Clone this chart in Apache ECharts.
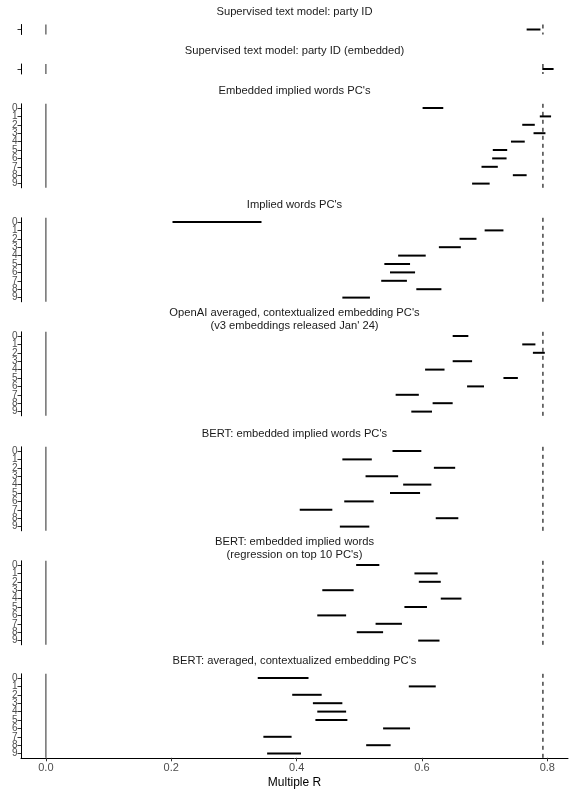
<!DOCTYPE html>
<html><head><meta charset="utf-8">
<script src="https://cdn.jsdelivr.net/npm/echarts@6/dist/echarts.min.js"></script>
<style>html,body{margin:0;padding:0;background:#fff}#c{width:574px;height:792px}</style>
</head><body><div id="c"></div>
<script>
// ---- data ----
const panelTitles = [
  "Supervised text model: party ID",
  "Supervised text model: party ID (embedded)",
  "Embedded implied words PC's",
  "Implied words PC's",
  "OpenAI averaged, contextualized embedding PC's\n(v3 embeddings released Jan' 24)",
  "BERT: embedded implied words PC's",
  "BERT: embedded implied words\n(regression on top 10 PC's)",
  "BERT: averaged, contextualized embedding PC's"
];
const singleLabels = [""];
const pcLabels = ["0","1","2","3","4","5","6","7","8","9"];
const xTicks = [0, 0.2, 0.4, 0.6, 0.8];
const refZero = 0;
const refCeiling = 0.793;

const supervisedLow = [0.767];
const supervisedHigh = [0.789];
const supervisedEmbLow = [0.792];
const supervisedEmbHigh = [0.810];
const embImpliedLow  = [0.601,0.788,0.760,0.778,0.742,0.713,0.712,0.695,0.745,0.680];
const embImpliedHigh = [0.634,0.806,0.780,0.797,0.764,0.736,0.735,0.721,0.767,0.708];
const impliedLow  = [0.202,0.700,0.660,0.627,0.562,0.540,0.549,0.535,0.591,0.473];
const impliedHigh = [0.344,0.730,0.687,0.662,0.606,0.581,0.589,0.576,0.631,0.517];
const openaiLow  = [0.649,0.760,0.777,0.649,0.605,0.730,0.672,0.558,0.617,0.583];
const openaiHigh = [0.674,0.781,0.796,0.680,0.636,0.753,0.699,0.595,0.649,0.616];
const bertEmbLow  = [0.553,0.473,0.619,0.510,0.570,0.549,0.476,0.405,0.622,0.469];
const bertEmbHigh = [0.599,0.520,0.653,0.562,0.615,0.597,0.523,0.457,0.658,0.516];
const bertRegLow  = [0.495,0.588,0.595,0.441,0.630,0.572,0.433,0.526,0.496,0.594];
const bertRegHigh = [0.532,0.625,0.630,0.491,0.663,0.608,0.479,0.568,0.538,0.628];
const bertAvgLow  = [0.338,0.579,0.393,0.426,0.433,0.430,0.538,0.347,0.511,0.353];
const bertAvgHigh = [0.419,0.622,0.440,0.473,0.479,0.481,0.581,0.392,0.550,0.407];

const panels = [
  {low: supervisedLow, high: supervisedHigh, cats: singleLabels},
  {low: supervisedEmbLow, high: supervisedEmbHigh, cats: singleLabels},
  {low: embImpliedLow, high: embImpliedHigh, cats: pcLabels},
  {low: impliedLow, high: impliedHigh, cats: pcLabels},
  {low: openaiLow, high: openaiHigh, cats: pcLabels},
  {low: bertEmbLow, high: bertEmbHigh, cats: pcLabels},
  {low: bertRegLow, high: bertRegHigh, cats: pcLabels},
  {low: bertAvgLow, high: bertAvgHigh, cats: pcLabels}
];

// ---- layout ----
const tops = [24.5, 64, 103.8, 217.8, 331.8, 446.8, 560.8, 673.8];
const heights = [10, 10, 84, 84, 84, 84, 84, 84];
const xMin = -0.0397, xMax = 0.833;
const FONT = "Liberation Sans, Arial, Helvetica, sans-serif";

const grids = [], xAxes = [], yAxes = [], series = [], titles = [];
panels.forEach((p, k) => {
  grids.push({left: 21, right: 6, top: tops[k], height: heights[k]});
  const last = k === panels.length - 1;
  xAxes.push({
    type: 'value', gridIndex: k, min: xMin, max: xMax, show: last,
    splitLine: {show: false},
    axisLine: {show: true, onZero: false, lineStyle: {color: '#000', width: 1}},
    axisTick: {show: true, length: 3.5, customValues: xTicks, lineStyle: {color: '#333', width: 1}},
    axisLabel: {customValues: xTicks, fontSize: 11, color: '#4d4d4d', margin: 5, fontFamily: FONT,
      formatter: v => v.toFixed(1)},
    name: last ? 'Multiple R' : '', nameLocation: 'middle', nameGap: 19,
    nameTextStyle: {fontSize: 12, color: '#000', fontFamily: FONT}
  });
  yAxes.push({
    type: 'category', gridIndex: k, data: p.cats, inverse: true, position: 'left',
    axisLine: {show: true, onZero: false, lineStyle: {color: '#000', width: 1}},
    axisTick: {show: true, alignWithLabel: true, length: 3.5, lineStyle: {color: '#333', width: 1}},
    axisLabel: {fontSize: 10, color: '#4d4d4d', margin: 3.5, fontFamily: FONT, interval: 0, lineHeight: 9},
    splitLine: {show: false}
  });
  // reference vertical lines
  series.push({
    type: 'custom', xAxisIndex: k, yAxisIndex: k, silent: true,
    data: [[refZero, 0], [refCeiling, 1]],
    encode: {x: 0},
    renderItem: (params, api) => {
      const cs = params.coordSys;
      const x = api.coord([api.value(0), 0])[0];
      const dashed = api.value(1) === 1;
      return {type: 'line', shape: {x1: x, y1: cs.y, x2: x, y2: cs.y + cs.height},
        style: dashed ? {stroke: '#000', lineWidth: 1.1, lineDash: [4, 4]}
                      : {stroke: '#5a5a5a', lineWidth: 1.3}};
    }
  });
  // interval segments
  series.push({
    type: 'custom', xAxisIndex: k, yAxisIndex: k, silent: true,
    data: p.low.map((lo, i) => [lo, p.high[i], i]),
    encode: {x: [0, 1], y: 2},
    renderItem: (params, api) => {
      const a = api.coord([api.value(0), api.value(2)]);
      const b = api.coord([api.value(1), api.value(2)]);
      return {type: 'line', shape: {x1: a[0], y1: a[1], x2: b[0], y2: b[1]},
        style: {stroke: '#000', lineWidth: 2}};
    }
  });
  const nLines = panelTitles[k].split('\n').length;
  titles.push({
    text: panelTitles[k], left: 294.5, textAlign: 'center',
    top: tops[k] - 12.6 - nLines * 13 / 2, padding: 0,
    textStyle: {fontSize: 11.2, fontWeight: 'normal', color: '#1a1a1a', fontFamily: FONT, lineHeight: 13}
  });
});

const chart = echarts.init(document.getElementById('c'), null, {renderer: 'canvas'});
chart.setOption({
  animation: false, backgroundColor: '#fff',
  title: titles, grid: grids, xAxis: xAxes, yAxis: yAxes, series: series
});
</script></body></html>
